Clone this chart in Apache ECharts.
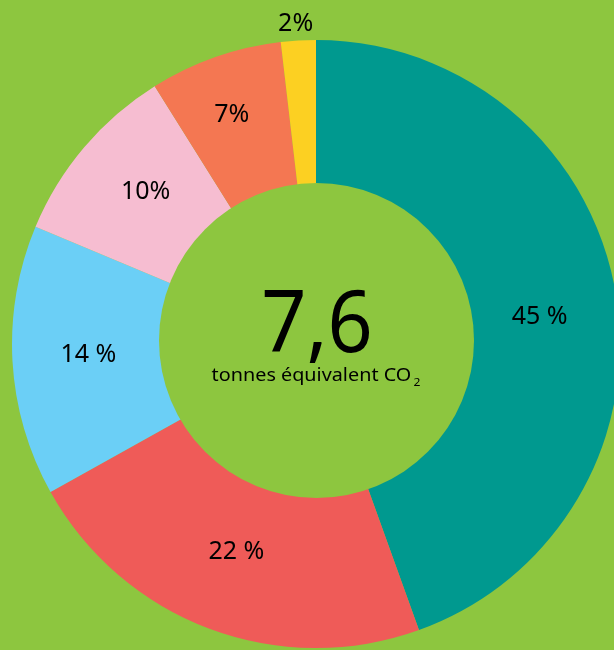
<!DOCTYPE html>
<html>
<head>
<meta charset="utf-8">
<script src="https://cdn.jsdelivr.net/npm/echarts@6/dist/echarts.min.js"></script>
<style>
  html, body { margin: 0; padding: 0; background: #8dc63f; }
  #chart { width: 614px; height: 650px; }
</style>
</head>
<body>
<div id="chart"></div>
<script>
    // parts de l'empreinte carbone (%), sens horaire depuis le haut
    var shares = [44.5, 22.4, 14.4, 9.8, 7.05, 1.85];
    var shareLabels = ['45 %', '22 %', '14 %', '10%', '7%', '2%'];
    var sliceColors = ['#00998f', '#ef5b58', '#6bcff6', '#f6bdd1', '#f47752', '#fcd022'];
    var total = '7,6';
    var unit = 'tonnes équivalent CO';
    var unitSub = '2';

    // décalage des étiquettes (placées à la main sur l'original)
    var labelOffsets = [[-3, 12], [1, -8], [2, -2], [5, -3], [-8, -12], [-7, -91]];

    var bg = '#8dc63f';
    var myChart = echarts.init(document.getElementById('chart'));

    var data = shares.map(function(v, i) {
        return {
            value: v,
            name: shareLabels[i],
            itemStyle: { color: sliceColors[i] },
            label: { offset: labelOffsets[i] }
        };
    });

    var option = {
        backgroundColor: bg,
        animation: false,
        graphic: [
            {
                // trou central
                type: 'circle',
                z: 10,
                shape: { cx: 316.5, cy: 340.5, r: 157.5 },
                style: { fill: bg },
                silent: true
            },
            {
                type: 'text',
                z: 11,
                x: 317, y: 327,
                scaleX: 0.92,
                style: {
                    text: total,
                    font: '86px "Noto Sans"',
                    fill: '#000',
                    textAlign: 'center',
                    textVerticalAlign: 'middle'
                }
            },
            {
                type: 'text',
                z: 11,
                x: 316, y: 376,
                scaleX: 1.1,
                style: {
                    text: '{a|' + unit + '}{s|' + unitSub + '}',
                    fill: '#000',
                    textAlign: 'center',
                    textVerticalAlign: 'middle',
                    rich: {
                        a: { fontSize: 18, fontFamily: 'Noto Sans', lineHeight: 24, fill: '#000' },
                        s: { fontSize: 11, fontFamily: 'Noto Sans', lineHeight: 6, verticalAlign: 'bottom', padding: [0, 0, 0, 2], fill: '#000' }
                    }
                }
            }
        ],
        series: [{
            type: 'pie',
            center: [316, 344],
            radius: [150, 304],
            startAngle: 90,
            clockwise: true,
            silent: true,
            label: {
                show: true,
                position: 'inside',
                formatter: '{b}',
                color: '#000',
                fontSize: 25,
                fontFamily: 'Noto Sans'
            },
            labelLine: { show: false },
            itemStyle: { borderWidth: 0 },
            data: data
        }]
    };
    myChart.setOption(option);
</script>
</body>
</html>
